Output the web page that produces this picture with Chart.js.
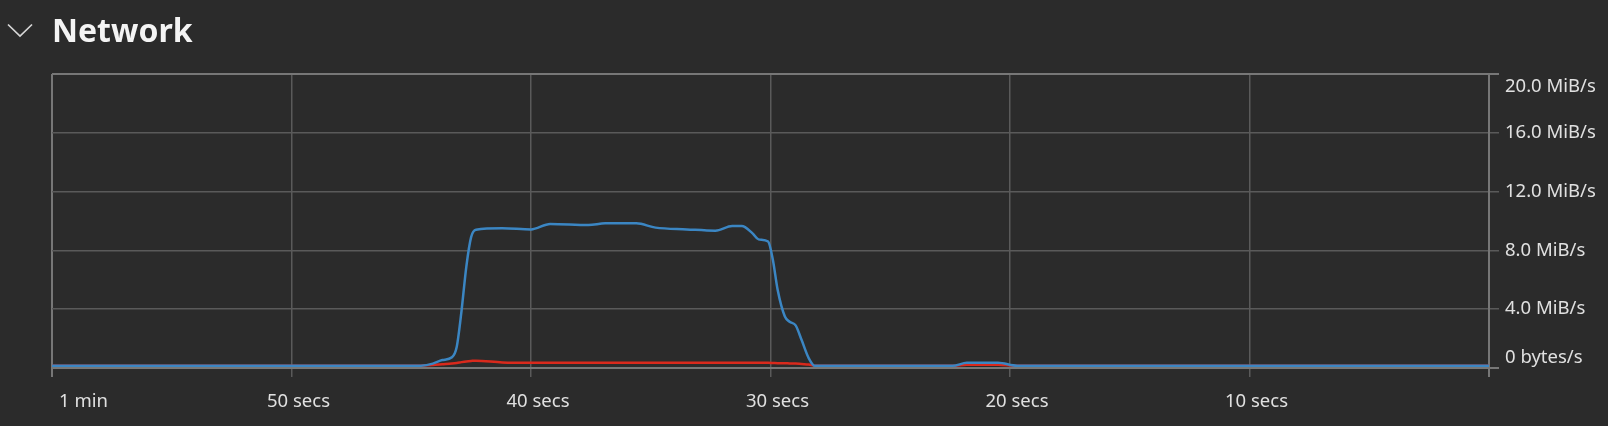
<!DOCTYPE html>
<html>
<head>
<meta charset="utf-8">
<script src="https://cdn.jsdelivr.net/npm/chart.js@4"></script>
<style>
  html, body { margin: 0; padding: 0; background: #2b2b2b; }
  #wrap { position: relative; width: 1608px; height: 426px; }
  #chevron { position: absolute; left: 7px; top: 23px; }
</style>
</head>
<body>
<div id="wrap">
  <svg id="chevron" width="26" height="15" viewBox="0 0 26 15">
    <polyline points="1,1.5 13,13 25,1.5" fill="none" stroke="#d6d6d6" stroke-width="1.7"/>
  </svg>
  <canvas id="netChart"></canvas>
</div>
<script>
// seconds before now
var times = [-60, -50, -45, -44.6, -44.1, -43.7, -43.3, -43.1, -42.9, -42.7, -42.5, -42.3,
  -41.2, -40.0, -39.2, -37.6, -36.9, -35.6, -34.8, -33.5, -32.3, -31.6, -31.2, -30.75,
  -30.5, -30.1, -29.9, -29.7, -29.4, -29.2, -28.95, -28.7, -28.4, -28.15, -27,
  -22.4, -21.8, -20.5, -19.7, -10, 0];

// MiB/s
var received = [0.15, 0.15, 0.15, 0.16, 0.3, 0.54, 0.73, 1.45, 3.9, 6.9, 8.9, 9.4,
  9.5, 9.43, 9.8, 9.73, 9.84, 9.84, 9.55, 9.43, 9.34, 9.66, 9.66, 9.16,
  8.75, 8.6, 7.35, 5.3, 3.5, 3.15, 2.9, 1.9, 0.66, 0.15, 0.15,
  0.15, 0.35, 0.35, 0.15, 0.15, 0.15];

var sent = [0.15, 0.15, 0.15, 0.16, 0.2, 0.25, 0.3, 0.34, 0.4, 0.45, 0.48, 0.5,
  0.38, 0.36, 0.36, 0.36, 0.35, 0.35, 0.35, 0.35, 0.35, 0.35, 0.35, 0.35,
  0.35, 0.35, 0.34, 0.33, 0.32, 0.31, 0.3, 0.27, 0.24, 0.15, 0.15,
  0.15, 0.22, 0.22, 0.15, 0.15, 0.15];

var xTickLabels = ["1 min", "50 secs", "40 secs", "30 secs", "20 secs", "10 secs", ""];
var yTickLabels = ["0 bytes/s", "4.0 MiB/s", "8.0 MiB/s", "12.0 MiB/s", "16.0 MiB/s", "20.0 MiB/s"];

var gridColor = "#5a5a5a";
var edgeColor = "#777777";
var textColor = "#e0e0e0";

function points(values) {
  return times.map(function (t, i) {
    return { x: t, y: values[i] };
  });
}

Chart.defaults.font.family = "'Noto Sans', 'Open Sans', sans-serif";

var ctx = document.getElementById("netChart").getContext("2d");

var myChart = new Chart(ctx, {
  type: "line",
  data: {
    datasets: [
      {
        label: "Receiving",
        data: points(received),
        borderColor: "#3b86c3",
        borderWidth: 2.5,
        pointRadius: 0,
        cubicInterpolationMode: "monotone",
        fill: false,
      },
      {
        label: "Sending",
        data: points(sent),
        borderColor: "#d9291c",
        borderWidth: 2.5,
        pointRadius: 0,
        cubicInterpolationMode: "monotone",
        fill: false,
      },
    ],
  },
  options: {
    responsive: true,
    maintainAspectRatio: false,
    animation: false,
    layout: {
      padding: { left: 52, top: 0, right: 0, bottom: 0 },
    },
    plugins: {
      legend: { display: false },
      tooltip: { enabled: false },
      title: {
        display: true,
        text: "Network",
        align: "start",
        color: "#f4f4f4",
        font: { size: 32, weight: "bold", lineHeight: 1.2 },
        padding: { top: 14, bottom: 21.6 },
      },
    },
    scales: {
      x: {
        type: "linear",
        min: -60,
        max: 0,
        afterFit: function (scale) {
          scale.height = 58;
        },
        border: { color: edgeColor, width: 2 },
        grid: {
          color: function (c) {
            return c.index === 0 || c.index === xTickLabels.length - 1 ? edgeColor : gridColor;
          },
          lineWidth: function (c) {
            return c.index === 0 || c.index === xTickLabels.length - 1 ? 2 : 1.5;
          },
          tickLength: 9,
        },
        ticks: {
          stepSize: 10,
          autoSkip: false,
          maxRotation: 0,
          align: "inner",
          labelOffset: 7,
          padding: 14,
          color: textColor,
          font: { size: 18.5 },
          callback: function (value, index) {
            return xTickLabels[index];
          },
        },
      },
      y: {
        position: "right",
        min: 0,
        max: 20,
        afterFit: function (scale) {
          scale.width = 119;
        },
        border: { color: edgeColor, width: 2 },
        grid: {
          color: function (c) {
            return c.index === 0 || c.index === yTickLabels.length - 1 ? edgeColor : gridColor;
          },
          lineWidth: function (c) {
            return c.index === 0 || c.index === yTickLabels.length - 1 ? 2 : 1.5;
          },
          tickLength: 10,
        },
        ticks: {
          stepSize: 4,
          padding: 6,
          color: textColor,
          // taller line on the top label pushes it down inside the box
          font: function (c) {
            return { size: 18.5, lineHeight: c.index === yTickLabels.length - 1 ? 1.42 : 1.1 };
          },
          callback: function (value, index) {
            var label = yTickLabels[index];
            // keep the end labels inside the plot box
            if (index === 0) return [label, ""];
            if (index === yTickLabels.length - 1) return ["", label];
            return label;
          },
        },
      },
    },
  },
});
</script>
</body>
</html>
